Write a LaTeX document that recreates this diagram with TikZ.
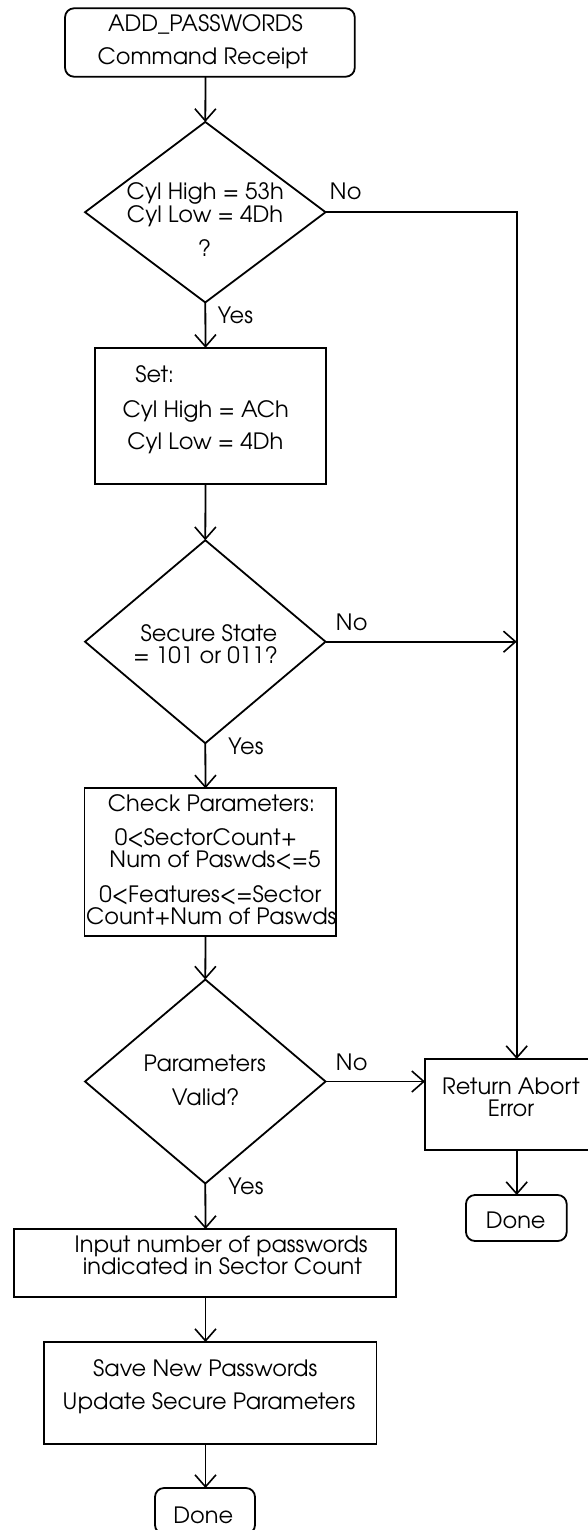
\documentclass[tikz,border=0pt]{standalone}
\usepackage{fontspec}
\setmainfont{TeX Gyre Adventor}
\usetikzlibrary{shapes.geometric,arrows.meta}

\begin{document}
\begin{tikzpicture}[x=1pt,y=-1pt,
  line width=1.8pt,
  arr/.style={-{Straight Barb[length=12pt,width=21pt,line width=1.6pt]}},
  box/.style={draw,rectangle,inner sep=0pt,outer sep=0pt},
  term/.style={box,rounded corners=9pt},
  decision/.style={draw,diamond,inner sep=0pt,outer sep=0pt},
  txt/.style={anchor=base,inner sep=0pt,font=\fontsize{22.5}{27}\selectfont},
  lbl/.style={txt}
]
\useasboundingbox (0,0) rectangle (588,1530);

% flow column and the side return column
\coordinate (ax) at (205.5,0);
\coordinate (rx) at (516.7,0);

% shapes
\node[term,minimum width=289.7pt,minimum height=68.4pt] (start) at (209.9,42.5) {};
\node[decision,minimum width=240.5pt,minimum height=180.5pt] (d1) at (205.3,212.2) {};
\node[box,minimum width=231.3pt,minimum height=136pt] (set) at (210.6,415.8) {};
\node[decision,minimum width=240.5pt,minimum height=203pt] (d2) at (205.3,641.7) {};
\node[box,minimum width=251.9pt,minimum height=147.7pt] (check) at (210.35,862.2) {};
\node[decision,minimum width=240.5pt,minimum height=204pt] (d3) at (205.3,1081.5) {};
\node[box,minimum width=175pt,minimum height=91pt] (abort) at (512.5,1104.5) {};
\node[term,minimum width=100.7pt,minimum height=46pt] (doneR) at (516.35,1218) {};
\node[box,minimum width=381.7pt,minimum height=68pt] (input) at (204.75,1263) {};
\node[box,minimum width=332.3pt,minimum height=102pt] (save) at (210.35,1393) {};
\node[term,minimum width=100pt,minimum height=46pt] (doneB) at (205,1511) {};

% texts
\node[txt] (t1a) at (205.5,32) {ADD\_PASSWORDS};
\node[txt] (t1b) at (202.7,65) {Command Receipt};
\node[txt] (t2a) at (205.3,200) {Cyl High = 53h};
\node[txt] (t2b) at (205,223) {Cyl Low = 4Dh};
\node[txt] (t2c) at (204.4,257) {?};
\node[txt] (t3a) at (154.7,382) {Set:};
\node[txt] (t3b) at (205.7,417) {Cyl High = ACh};
\node[txt] (t3c) at (205.3,449) {Cyl Low = 4Dh};
\node[txt] (t4a) at (209,641) {Secure State};
\node[txt] (t4b) at (205.7,663) {= 101 or 011?};
\node[txt] (t5a) at (211.5,811) {Check Parameters:};
\node[txt] (t5b) at (205.9,845) {0<SectorCount+};
\node[txt] (t5c) at (215,867) {Num of Paswds<=5};
\node[txt] (t5d) at (210.4,902) {0<Features<=Sector};
\node[txt] (t5e) at (211.3,924) {Count+Num of Paswds};
\node[txt] (t6a) at (204.7,1071) {Parameters};
\node[txt] (t6b) at (205.7,1105) {Valid?};
\node[txt] (t7a) at (511,1094) {Return Abort};
\node[txt] (t7b) at (511,1116) {Error};
\node[txt] (t8) at (515.7,1228) {Done};
\node[txt] (t9a) at (221.2,1252) {Input number of passwords};
\node[txt] (t9b) at (222.5,1274) {indicated in Sector Count};
\node[txt] (t10a) at (205.3,1376) {Save New Passwords};
\node[txt] (t10b) at (209,1409) {Update Secure Parameters};
\node[txt] (t11) at (203.3,1523) {Done};

% branch labels
\node[lbl] (no1) at (345.8,200) {No};
\node[lbl] (no2) at (351.7,630) {No};
\node[lbl] (no3) at (351.7,1070) {No};
\node[lbl] (yes1) at (235.5,323) {Yes};
\node[lbl] (yes2) at (246,754) {Yes};
\node[lbl] (yes3) at (246,1194) {Yes};

% main flow
\draw[arr] (start.south -| ax) -- (d1.north);
\draw[arr] (d1.south) -- (set.north -| ax);
\draw[arr] (set.south -| ax) -- (d2.north);
\draw[arr] (d2.south) -- (check.north -| ax);
\draw[arr] (check.south -| ax) -- (d3.north);
\draw[arr] (d3.south) -- (input.north -| ax);
\draw[arr] (input.south -| ax) -- (save.north -| ax);
\draw[arr] (save.south -| ax) -- (doneB.north -| ax);

% failure branches
\draw[arr] (d1.east) -- (d1.east -| rx) -- (abort.north -| rx);
\draw[arr] (d2.east) -- (d2.east -| rx);
\draw[arr] (d3.east) -- (abort.west |- d3.east);
\draw[arr] (abort.south -| rx) -- (doneR.north -| rx);
\end{tikzpicture}
\end{document}
